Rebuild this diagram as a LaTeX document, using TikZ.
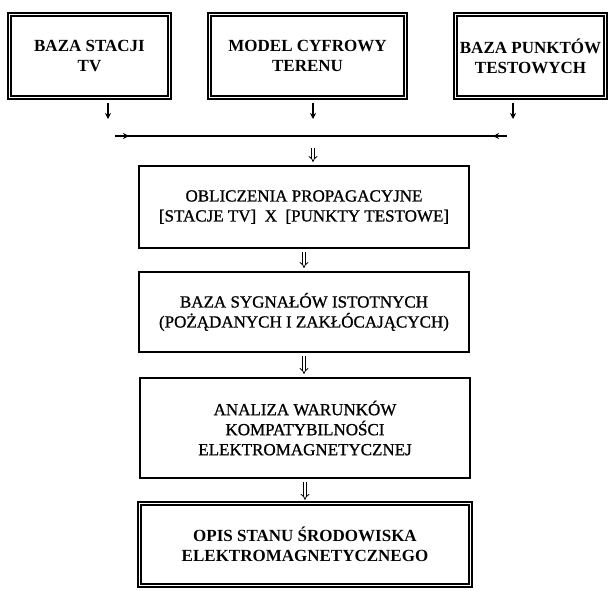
\documentclass[tikz,border=0pt]{standalone}
\usepackage{fontspec}
\setmainfont{Liberation Serif}
\newfontfamily\scanfont{Liberation Serif}[FakeBold=1]
\usetikzlibrary{arrows.meta}

\begin{document}
\begin{tikzpicture}[x=1pt, y=-1pt, thick,
        every node/.style={font=\fontsize{17}{20}\selectfont\scanfont, align=center, inner sep=0pt},
        srcbox/.style={draw, double, double distance=1.8pt, line width=1.4pt,
            font=\fontsize{17}{20}\selectfont\bfseries},
        procbox/.style={draw, line width=2pt, minimum width=330pt},
        sarrow/.style={line width=1.1pt, -{Stealth[length=6pt, width=6pt]}},
        darrow/.style={double, double distance=2.2pt, line width=0.8pt,
            -{Implies}, shorten <=3pt, shorten >=3pt}]
        \useasboundingbox (0,0) rectangle (609,590);

        % Input databases
        \node[srcbox, minimum width=160pt, minimum height=83pt] (stacje) at (89.5,56)
            {BAZA STACJI\\TV};
        \node[srcbox, minimum width=196pt, minimum height=83pt] (model) at (307.5,56)
            {MODEL CYFROWY\\TERENU};
        \node[srcbox, minimum width=150pt, minimum height=83pt] (punkty) at (530.5,56)
            {BAZA PUNKTÓW\\TESTOWYCH};

        % Collecting line
        \coordinate (busL) at (115,136);
        \coordinate (busR) at (507,136);
        \coordinate (t1) at (108,119);
        \coordinate (t2) at (313,119);
        \coordinate (t3) at (513,119);
        \coordinate (j2) at (313,136);

        \draw[sarrow, shorten <=5pt] (stacje.south -| t1) -- (t1);
        \draw[sarrow, shorten <=5pt] (model.south -| t2) -- (t2);
        \draw[sarrow, shorten <=5pt] (punkty.south -| t3) -- (t3);

        \draw[line width=1.1pt] (busL) -- (busR);
        \draw[sarrow] (busL) -- ++(14,0);
        \draw[sarrow] (busR) -- ++(-14,0);

        % Processing chain
        \node[procbox, minimum height=82pt] (oblicz) at (304,207)
            {OBLICZENIA PROPAGACYJNE\\{}[STACJE TV]\ \ X\ \ [PUNKTY TESTOWE]};
        \node[procbox, minimum height=80pt] (sygnaly) at (304,312)
            {BAZA SYGNAŁÓW ISTOTNYCH\\(POŻĄDANYCH I ZAKŁÓCAJĄCYCH)};
        \node[procbox, minimum height=100pt] (analiza) at (305,428)
            {ANALIZA WARUNKÓW\\KOMPATYBILNOŚCI\\ELEKTROMAGNETYCZNEJ};
        \node[srcbox, minimum width=331pt, minimum height=82pt] (opis) at (305,544.5)
            {OPIS STANU ŚRODOWISKA\\ELEKTROMAGNETYCZNEGO};

        \draw[darrow, shorten <=12pt] (j2) -- (j2 |- oblicz.north);
        \draw[darrow] (oblicz.south) -- (sygnaly.north);
        \draw[darrow] (sygnaly.south) -- (sygnaly.south |- analiza.north);
        \draw[darrow] (analiza.south) -- (opis.north);
    \end{tikzpicture}
\end{document}
